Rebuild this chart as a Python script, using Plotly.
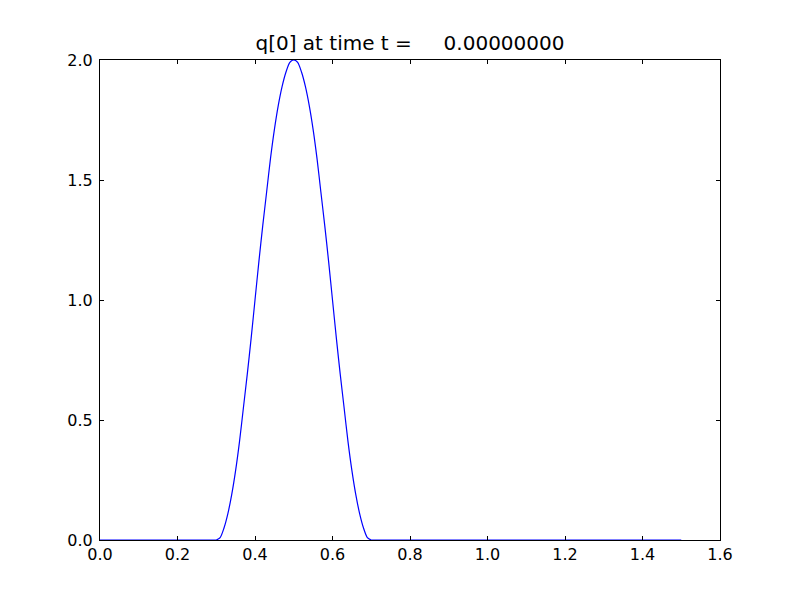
import plotly.graph_objects as go

x_base_left = [0.0, 0.30]
x_hump = [0.30, 0.31, 0.32, 0.33, 0.34, 0.35, 0.36, 0.37, 0.38, 0.39, 0.40,
          0.41, 0.42, 0.43, 0.44, 0.45, 0.46, 0.47, 0.48, 0.49, 0.50,
          0.51, 0.52, 0.53, 0.54, 0.55, 0.56, 0.57, 0.58, 0.59, 0.60,
          0.61, 0.62, 0.63, 0.64, 0.65, 0.66, 0.67, 0.68, 0.69, 0.70]
q_hump = [0.0, 0.01, 0.05, 0.11, 0.19, 0.29, 0.41, 0.55, 0.69, 0.84, 1.0,
          1.16, 1.31, 1.45, 1.59, 1.71, 1.81, 1.89, 1.95, 1.99, 2.0,
          1.99, 1.95, 1.89, 1.81, 1.71, 1.59, 1.45, 1.31, 1.16, 1.0,
          0.84, 0.69, 0.55, 0.41, 0.29, 0.19, 0.11, 0.05, 0.01, 0.0]
x_base_right = [0.70, 1.50]
q_base = [0.0, 0.0]
x_ticks = [0.0, 0.2, 0.4, 0.6, 0.8, 1.0, 1.2, 1.4, 1.6]
y_ticks = [0.0, 0.5, 1.0, 1.5, 2.0]
title_text = "q[0] at time t =     0.00000000"

line_style = dict(color="#0000ff", width=1.2)
fig = go.Figure()
fig.add_trace(go.Scatter(x=x_base_left, y=q_base, mode="lines", line=line_style,
                         showlegend=False, hoverinfo="skip"))
fig.add_trace(go.Scatter(x=x_hump, y=q_hump, mode="lines",
                         line=dict(**line_style, shape="spline", smoothing=0.8),
                         showlegend=False, hoverinfo="skip"))
fig.add_trace(go.Scatter(x=x_base_right, y=q_base, mode="lines", line=line_style,
                         showlegend=False, hoverinfo="skip"))

font = "DejaVu Sans, sans-serif"
axis_common = dict(showgrid=False, zeroline=False, showline=True, linecolor="black",
                   linewidth=1, mirror="ticks", ticks="inside", ticklen=4,
                   tickcolor="black", tickwidth=1,
                   tickfont=dict(family=font, size=16, color="black"))
fig.update_xaxes(range=[0, 1.6], tickvals=x_ticks,
                 ticktext=[f"{v:.1f}" for v in x_ticks], **axis_common)
fig.update_yaxes(range=[0, 2.0], tickvals=y_ticks, ticklabelstandoff=3,
                 ticktext=[f"{v:.1f}" for v in y_ticks], **axis_common)

fig.update_layout(
    width=792, height=592,
    margin=dict(l=92, r=80, t=52, b=60, pad=0),
    paper_bgcolor="white", plot_bgcolor="white",
    title=dict(text=title_text.replace(" ", "\u00a0"), x=0.5, xref="paper",
               xanchor="center", y=1 - 35 / 592, yanchor="middle",
               font=dict(family=font, size=20, color="black")),
)
fig.write_html("out.html")
